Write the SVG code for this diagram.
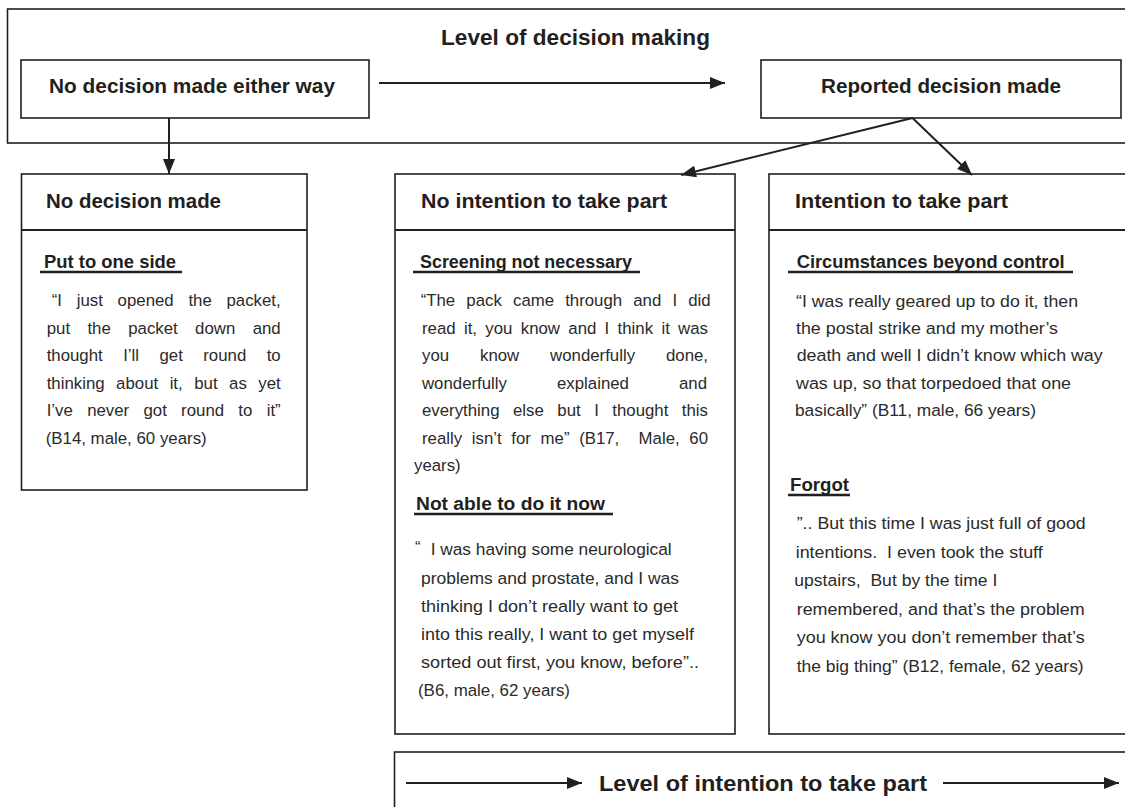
<svg xmlns="http://www.w3.org/2000/svg" width="1125" height="807" viewBox="0 0 1125 807">
<defs>
<style>
.box{fill:#fff;stroke:#231f20;stroke-width:1.6}
.div{stroke:#231f20;stroke-width:2.2}
.t{font-family:"Liberation Sans",Arial,sans-serif;fill:#231f20}
.hb{font-weight:bold;font-size:21px}
.ttl{font-weight:bold;font-size:22.6px}
.sub{font-weight:bold;font-size:18px}
.q{font-size:16.8px;fill:#2a2a2a}
.ul{stroke:#231f20;stroke-width:2.6}
.conn{stroke:#231f20;stroke-width:2;fill:none}
</style>
<marker id="ah" markerUnits="userSpaceOnUse" markerWidth="16" markerHeight="12" refX="15" refY="6" orient="auto">
<path d="M0,0 L15,6 L0,12 Z" fill="#231f20"/>
</marker>
</defs>
<rect width="1125" height="807" fill="#fff"/>

<g id="decision-level">
<rect class="box" x="7.5" y="9" width="1130" height="134"/>
<text class="t ttl" x="441" y="45" textLength="269" lengthAdjust="spacingAndGlyphs">Level of decision making</text>
</g>

<g id="no-decision-either-way">
<rect class="box" x="21" y="60" width="348" height="58"/>
<text class="t hb" x="49" y="93" textLength="286" lengthAdjust="spacingAndGlyphs">No decision made either way</text>
</g>

<g id="reported-decision">
<rect class="box" x="761" y="60" width="360" height="58"/>
<text class="t hb" x="821" y="93" textLength="240" lengthAdjust="spacingAndGlyphs">Reported decision made</text>
</g>

<g id="no-decision-made">
<rect class="box" x="21.5" y="174" width="285.5" height="316"/>
<line class="div" x1="21.5" y1="230" x2="307" y2="230"/>
<text class="t hb" x="46" y="208" textLength="175" lengthAdjust="spacingAndGlyphs">No decision made</text>
<text class="t sub" x="44" y="268" textLength="132" lengthAdjust="spacingAndGlyphs">Put to one side</text>
<line class="ul" x1="40" y1="272" x2="182" y2="272"/>
<text class="t q" x="51.7" y="306" style="word-spacing:10.1px" textLength="229" lengthAdjust="spacingAndGlyphs">“I just opened the packet,</text>
<text class="t q" x="46.7" y="333.5" style="word-spacing:12.7px" textLength="234" lengthAdjust="spacingAndGlyphs">put the packet down and</text>
<text class="t q" x="46.7" y="361" style="word-spacing:15.8px" textLength="234" lengthAdjust="spacingAndGlyphs">thought I’ll get round to</text>
<text class="t q" x="46.7" y="388.5" style="word-spacing:6.8px" textLength="234" lengthAdjust="spacingAndGlyphs">thinking about it, but as yet</text>
<text class="t q" x="46.7" y="416" style="word-spacing:9.6px" textLength="234" lengthAdjust="spacingAndGlyphs">I’ve never got round to it”</text>
<text class="t q" x="45.7" y="443.5" textLength="161" lengthAdjust="spacingAndGlyphs">(B14, male, 60 years)</text>
</g>

<g id="no-intention">
<rect class="box" x="395" y="174" width="340" height="560"/>
<line class="div" x1="395" y1="230" x2="735" y2="230"/>
<text class="t hb" x="421" y="208" textLength="246" lengthAdjust="spacingAndGlyphs">No intention to take part</text>
<text class="t sub" x="420" y="268" textLength="212" lengthAdjust="spacingAndGlyphs">Screening not necessary</text>
<line class="ul" x1="413" y1="272" x2="640" y2="272"/>
<text class="t q" x="420.7" y="306" style="word-spacing:6.5px" textLength="290" lengthAdjust="spacingAndGlyphs">“The pack came through and I did</text>
<text class="t q" x="422" y="333.5" style="word-spacing:3.6px" textLength="286" lengthAdjust="spacingAndGlyphs">read it, you know and I think it was</text>
<text class="t q" x="422" y="361" style="word-spacing:26.2px" textLength="286" lengthAdjust="spacingAndGlyphs">you know wonderfully done,</text>
<text class="t q" x="422" y="388.5" style="word-spacing:45.4px" textLength="285" lengthAdjust="spacingAndGlyphs">wonderfully explained and</text>
<text class="t q" x="422" y="416" style="word-spacing:8.8px" textLength="286" lengthAdjust="spacingAndGlyphs">everything else but I thought this</text>
<text class="t q" x="422" y="443.5" style="word-spacing:5px;white-space:pre" textLength="286" lengthAdjust="spacingAndGlyphs">really isn’t for me” (B17,  Male, 60</text>
<text class="t q" x="414" y="471">years)</text>
<text class="t sub" x="416" y="510" textLength="189" lengthAdjust="spacingAndGlyphs">Not able to do it now</text>
<line class="ul" x1="414" y1="514" x2="613" y2="514"/>
<text class="t q" x="415" y="553" font-size="18">“</text>
<text class="t q" x="430.7" y="555" textLength="241" lengthAdjust="spacingAndGlyphs">I was having some neurological</text>
<text class="t q" x="421" y="584" textLength="258" lengthAdjust="spacingAndGlyphs">problems and prostate, and I was</text>
<text class="t q" x="421" y="612" textLength="257" lengthAdjust="spacingAndGlyphs">thinking I don’t really want to get</text>
<text class="t q" x="421" y="640" textLength="273" lengthAdjust="spacingAndGlyphs">into this really, I want to get myself</text>
<text class="t q" x="421" y="668" textLength="278" lengthAdjust="spacingAndGlyphs">sorted out first, you know, before”..</text>
<text class="t q" x="418" y="696" textLength="152" lengthAdjust="spacingAndGlyphs">(B6, male, 62 years)</text>
</g>

<g id="intention">
<rect class="box" x="769" y="174" width="370" height="560"/>
<line class="div" x1="769" y1="230" x2="1139" y2="230"/>
<text class="t hb" x="795" y="208" textLength="213" lengthAdjust="spacingAndGlyphs">Intention to take part</text>
<text class="t sub" x="796.7" y="268" textLength="268" lengthAdjust="spacingAndGlyphs">Circumstances beyond control</text>
<line class="ul" x1="788" y1="272" x2="1073" y2="272"/>
<text class="t q" x="796" y="306.5" textLength="282" lengthAdjust="spacingAndGlyphs">“I was really geared up to do it, then</text>
<text class="t q" x="796" y="333.5" textLength="262" lengthAdjust="spacingAndGlyphs">the postal strike and my mother’s</text>
<text class="t q" x="796.7" y="361" textLength="306" lengthAdjust="spacingAndGlyphs">death and well I didn’t know which way</text>
<text class="t q" x="796" y="388.5" textLength="275" lengthAdjust="spacingAndGlyphs">was up, so that torpedoed that one</text>
<text class="t q" x="795" y="416" textLength="241" lengthAdjust="spacingAndGlyphs">basically” (B11, male, 66 years)</text>
<text class="t sub" x="790" y="491" textLength="59" lengthAdjust="spacingAndGlyphs">Forgot</text>
<line class="ul" x1="788" y1="495" x2="850" y2="495"/>
<text class="t q" x="796.7" y="529" textLength="289" lengthAdjust="spacingAndGlyphs">”.. But this time I was just full of good</text>
<text class="t q" x="795.7" y="557.5" style="white-space:pre" textLength="247" lengthAdjust="spacingAndGlyphs">intentions.  I even took the stuff</text>
<text class="t q" x="794.3" y="586" style="white-space:pre" textLength="203" lengthAdjust="spacingAndGlyphs">upstairs,  But by the time I</text>
<text class="t q" x="796.7" y="614.5" textLength="288" lengthAdjust="spacingAndGlyphs">remembered, and that’s the problem</text>
<text class="t q" x="796.7" y="643" textLength="288" lengthAdjust="spacingAndGlyphs">you know you don’t remember that’s</text>
<text class="t q" x="796.7" y="671.5" textLength="287" lengthAdjust="spacingAndGlyphs">the big thing” (B12, female, 62 years)</text>
</g>

<g id="intention-level">
<rect class="box" x="394.5" y="752" width="745" height="80"/>
<text class="t ttl" x="599" y="791" font-size="23.5" textLength="328" lengthAdjust="spacingAndGlyphs">Level of intention to take part</text>
</g>

<g id="connectors">
<line class="conn" x1="379" y1="83" x2="725" y2="83" marker-end="url(#ah)"/>
<line class="conn" x1="169" y1="118" x2="169" y2="174" marker-end="url(#ah)"/>
<line class="conn" x1="912.5" y1="118" x2="681" y2="175" marker-end="url(#ah)"/>
<line class="conn" x1="912.5" y1="118" x2="972" y2="175" marker-end="url(#ah)"/>
<line class="conn" x1="406" y1="783" x2="582" y2="783" marker-end="url(#ah)"/>
<line class="conn" x1="943" y1="783" x2="1119" y2="783" marker-end="url(#ah)"/>
</g>
</svg>
